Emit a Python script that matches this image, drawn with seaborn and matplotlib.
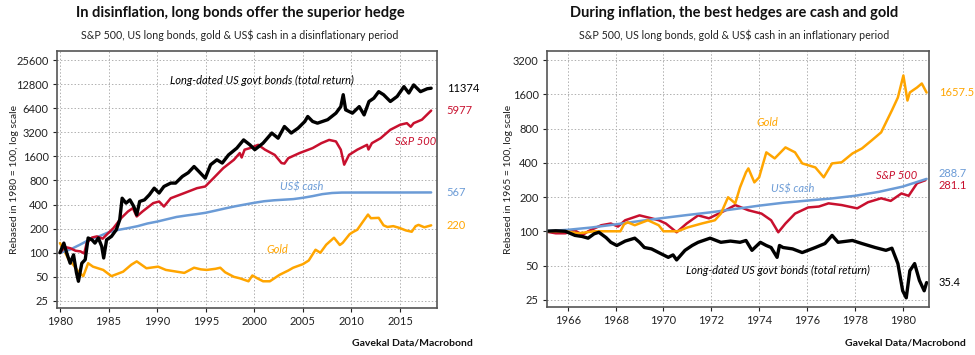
import matplotlib
matplotlib.use("Agg")
import matplotlib.pyplot as plt
import seaborn as sns

# ---------------- left panel: disinflation 1980-2018 ----------------
bond_yrs_l = [1980.0, 1980.4, 1980.7, 1981.05, 1981.4, 1981.7, 1981.9, 1982.25, 1982.6, 1982.9,
              1983.3, 1983.6, 1983.95, 1984.3, 1984.5, 1984.8, 1985.3, 1985.8, 1986.15, 1986.4,
              1986.8, 1987.2, 1987.6, 1987.9, 1988.2, 1988.7, 1989.2, 1989.7, 1990.2, 1990.7,
              1991.4, 1991.9, 1992.6, 1993.2, 1993.8, 1994.3, 1994.95, 1995.5, 1996.15, 1996.7,
              1997.35, 1998.2, 1998.9, 1999.55, 2000.05, 2000.9, 2001.8, 2002.45, 2003.1, 2003.8,
              2004.5, 2005.2, 2005.5, 2006.0, 2006.5, 2007.55, 2008.4, 2008.9, 2009.15, 2009.4,
              2010.1, 2010.8, 2011.3, 2011.8, 2012.3, 2012.8, 2013.3, 2014.0, 2014.7, 2015.4,
              2015.9, 2016.4, 2017.1, 2017.8, 2018.2]
bond_vals_l = [100, 132, 99, 74, 94, 56, 44, 74, 82, 153,
               145, 132, 153, 120, 86, 145, 160, 194, 258, 480,
               417, 458, 378, 298, 437, 458, 530, 641, 557, 673,
               742, 742, 899, 1000, 1195, 1036, 855, 1258, 1450, 1320,
               1670, 2030, 2570, 2230, 1940, 2340, 3130, 2700, 3780, 3130,
               3600, 4370, 5040, 4370, 4160, 4600, 5550, 6700, 9440, 6100,
               5550, 6700, 5280, 7760, 8530, 10300, 9440, 7760, 8980, 11900,
               9900, 12500, 10300, 11200, 11374]

sp_yrs_l = [1980.0, 1980.5, 1981.05, 1981.6, 1982.1, 1982.5, 1982.75, 1983.3, 1983.8, 1984.4,
            1984.8, 1985.5, 1986.3, 1987.0, 1987.5, 1987.9, 1988.5, 1989.6, 1990.2, 1990.7,
            1991.4, 1992.8, 1994.1, 1994.95, 1995.8, 1996.8, 1997.9, 1998.5, 1998.7, 1999.0,
            1999.55, 2000.4, 2001.1, 2002.1, 2002.8, 2003.1, 2003.5, 2004.65, 2006.0, 2006.9,
            2007.7, 2008.4, 2008.9, 2009.25, 2009.75, 2010.6, 2011.6, 2011.75, 2012.1, 2013.0,
            2014.0, 2015.0, 2015.7, 2016.1, 2016.4, 2017.25, 2018.2]
sp_vals_l = [100, 118, 114, 106, 104, 98, 132, 155, 160, 150,
             168, 203, 271, 328, 361, 284, 328, 417, 437, 378,
             480, 557, 641, 673, 855, 1140, 1450, 1760, 1550, 1940,
             2030, 2230, 1940, 1670, 1320, 1300, 1520, 1760, 2030, 2340,
             2570, 2460, 1940, 1260, 1670, 1940, 2230, 1950, 2340, 2700,
             3440, 3970, 4160, 3750, 4160, 4600, 5977]

cash_yrs_l = [1980.0, 1981.0, 1982.0, 1983.0, 1984.0, 1985.0, 1986.0, 1987.0, 1988.0, 1989.0,
              1990.0, 1991.0, 1992.0, 1993.0, 1994.0, 1995.0, 1996.0, 1997.0, 1998.0, 1999.0,
              2000.0, 2001.0, 2002.0, 2003.0, 2004.0, 2005.0, 2006.0, 2007.0, 2008.0, 2009.0,
              2012.0, 2015.0, 2018.2]
cash_vals_l = [100, 109, 125, 145, 160, 180, 193, 203, 215, 232,
               245, 262, 280, 292, 303, 316, 336, 358, 380, 400,
               421, 440, 452, 460, 468, 486, 510, 540, 558, 565,
               566, 566, 567]

gold_yrs_l = [1980.0, 1980.4, 1980.9, 1981.4, 1981.9, 1982.4, 1982.9, 1983.4, 1984.45, 1985.3,
              1986.5, 1987.35, 1987.9, 1988.9, 1990.1, 1990.9, 1992.8, 1993.8, 1994.5, 1995.1,
              1996.0, 1996.5, 1997.0, 1997.9, 1998.5, 1999.4, 1999.8, 2000.3, 2000.9, 2001.6,
              2002.6, 2003.5, 2004.0, 2005.0, 2005.6, 2006.3, 2006.8, 2007.4, 2008.2, 2008.8,
              2009.1, 2009.8, 2010.1, 2010.6, 2011.1, 2011.7, 2012.0, 2012.8, 2013.3, 2013.7,
              2014.3, 2014.9, 2015.6, 2016.2, 2016.6, 2016.9, 2017.5, 2018.2]
gold_vals_l = [132, 109, 82, 70, 58, 51, 74, 67, 61, 51,
               58, 71, 78, 64, 67, 61, 56, 65, 62, 61,
               63, 65, 57, 50, 48, 44, 52, 48, 44, 44,
               53, 60, 65, 72, 80, 109, 100, 126, 154, 125,
               133, 170, 180, 194, 237, 300, 270, 273, 220, 210,
               215, 205, 190, 183, 215, 223, 208, 220]

# ---------------- right panel: inflation 1965-1981 ----------------
bond_yrs_r = [1965.0, 1965.5, 1965.9, 1966.3, 1966.6, 1966.85, 1967.1, 1967.3, 1967.6, 1967.8,
              1968.05, 1968.4, 1968.8, 1969.0, 1969.2, 1969.5, 1969.8, 1970.2, 1970.4, 1970.55,
              1970.9, 1971.2, 1971.45, 1971.95, 1972.4, 1972.8, 1973.2, 1973.45, 1973.7, 1974.05,
              1974.3, 1974.5, 1974.75, 1974.85, 1975.0, 1975.4, 1975.8, 1976.35, 1976.75, 1977.05,
              1977.3, 1977.9, 1978.3, 1978.85, 1979.3, 1979.55, 1979.8, 1980.0, 1980.15, 1980.3,
              1980.5, 1980.7, 1980.9, 1981.0]
bond_vals_r = [100, 101, 100, 92, 90, 87, 95, 98, 88, 80,
               75, 82, 87, 80, 72, 70, 65, 59, 62, 56,
               68, 75, 80, 87, 80, 82, 80, 83, 68, 80,
               75, 72, 59, 75, 72, 70, 65, 72, 78, 92,
               80, 83, 78, 72, 68, 71, 52, 30, 26, 45,
               52, 37, 30, 35.4]

sp_yrs_r = [1965.0, 1965.5, 1965.9, 1966.3, 1966.6, 1966.85, 1967.4, 1967.8, 1968.1, 1968.4,
            1969.0, 1969.5, 1969.8, 1970.1, 1970.55, 1970.97, 1971.45, 1971.9, 1972.0, 1972.6,
            1973.0, 1973.55, 1974.1, 1974.5, 1974.8, 1975.1, 1975.5, 1976.05, 1976.5, 1976.9,
            1977.45, 1978.1, 1978.55, 1979.1, 1979.5, 1979.95, 1980.25, 1980.6, 1980.95]
sp_vals_r = [100, 96, 96, 102, 92, 100, 113, 117, 110, 125,
             138, 130, 125, 117, 98, 117, 138, 130, 133, 153,
             170, 153, 143, 125, 98, 117, 143, 162, 165, 176,
             170, 159, 180, 195, 185, 215, 205, 264, 281.1]

cash_yrs_r = [1965.0, 1966.0, 1967.0, 1968.0, 1969.0, 1970.0, 1971.0, 1972.0, 1973.0, 1974.0,
              1975.0, 1976.0, 1977.0, 1978.0, 1979.0, 1980.0, 1981.0]
cash_vals_r = [100, 103, 108, 115, 123, 131, 139, 147, 157, 168,
               178, 186, 194, 205, 222, 247, 288.7]

gold_yrs_r = [1965.0, 1965.9, 1966.45, 1967.1, 1968.2, 1968.35, 1968.5, 1968.8, 1969.35, 1969.8,
              1970.0, 1970.6, 1971.0, 1971.6, 1972.15, 1972.4, 1972.7, 1973.0, 1973.2, 1973.45,
              1973.55, 1973.8, 1974.0, 1974.3, 1974.65, 1975.1, 1975.5, 1975.8, 1976.35, 1976.7,
              1977.05, 1977.45, 1977.9, 1978.3, 1978.7, 1979.1, 1979.55, 1979.8, 1980.03, 1980.2,
              1980.3, 1980.6, 1980.8, 1981.0]
gold_vals_r = [100, 100, 96, 100, 100, 115, 120, 113, 125, 113,
               100, 100, 108, 117, 125, 143, 199, 176, 243, 330,
               357, 269, 298, 494, 437, 546, 494, 395, 364, 298,
               395, 404, 483, 535, 628, 740, 1155, 1500, 2340, 1410,
               1660, 1835, 1990, 1657.5]

end_labels_l = ["11374", "5977", "567", "220"]
end_labels_r = ["1657.5", "288.7", "281.1", "35.4"]

yticks_l = [25, 50, 100, 200, 400, 800, 1600, 3200, 6400, 12800, 25600]
yticks_r = [25, 50, 100, 200, 400, 800, 1600, 3200]
xticks_l = [1980, 1985, 1990, 1995, 2000, 2005, 2010, 2015]
xticks_r = [1966, 1968, 1970, 1972, 1974, 1976, 1978, 1980]

BLACK = "#000000"
RED = "#C8102E"
BLUE = "#6B9BD6"
GOLD = "#FFA500"

sns.set_theme(style="white")
plt.rcParams['font.family'] = ['Lato', 'DejaVu Sans']

fig = plt.figure(figsize=(9.75, 3.55), dpi=100)
ax1 = fig.add_axes([0.0585, 0.1324, 0.3897, 0.724])
ax2 = fig.add_axes([0.561, 0.1352, 0.3918, 0.7211])


def style_axis(ax, yticks, xticks, ylim, xlim, ylabel, label_x):
    ax.set_yscale('log', base=2)
    ax.set_ylim(*ylim)
    ax.set_xlim(*xlim)
    ax.set_yticks(yticks)
    ax.set_yticklabels([str(t) for t in yticks])
    ax.minorticks_off()
    ax.set_xticks(xticks)
    ax.set_xticklabels([str(t) for t in xticks])
    ax.grid(True, linestyle=(0, (1.5, 2)), color='#B0B0B0', lw=0.7)
    ax.tick_params(axis='both', labelsize=8, colors='#222222', length=3, width=0.8,
                   direction='out', bottom=True, left=True, pad=3)
    for sp in ax.spines.values():
        sp.set_color('#555555')
        sp.set_linewidth(1.2)
    ax.set_ylabel(ylabel, fontsize=7.5, color='#222222')
    ax.yaxis.set_label_coords(label_x, 0.5)
    ax.set_xlabel('')


# left panel
sns.lineplot(x=gold_yrs_l, y=gold_vals_l, ax=ax1, color=GOLD, lw=1.8, estimator=None)
sns.lineplot(x=cash_yrs_l, y=cash_vals_l, ax=ax1, color=BLUE, lw=1.8, estimator=None)
sns.lineplot(x=sp_yrs_l, y=sp_vals_l, ax=ax1, color=RED, lw=1.8, estimator=None)
sns.lineplot(x=bond_yrs_l, y=bond_vals_l, ax=ax1, color=BLACK, lw=2.4, estimator=None)
style_axis(ax1, yticks_l, xticks_l, (20.4, 33200), (1979.7, 2018.8),
           "Rebased in 1980 = 100, log scale", -0.099)

# right panel
sns.lineplot(x=sp_yrs_r, y=sp_vals_r, ax=ax2, color=RED, lw=1.8, estimator=None)
sns.lineplot(x=cash_yrs_r, y=cash_vals_r, ax=ax2, color=BLUE, lw=1.8, estimator=None)
sns.lineplot(x=gold_yrs_r, y=gold_vals_r, ax=ax2, color=GOLD, lw=1.8, estimator=None)
sns.lineplot(x=bond_yrs_r, y=bond_vals_r, ax=ax2, color=BLACK, lw=2.4, estimator=None)
style_axis(ax2, yticks_r, xticks_r, (21.6, 3840), (1965.13, 1981.1),
           "Rebased in 1965 = 100, log scale", -0.088)

# end-of-line value labels
cols = [BLACK, RED, BLUE, GOLD]
ends_l = [bond_vals_l[-1], sp_vals_l[-1], cash_vals_l[-1], gold_vals_l[-1]]
for txt, v, c in zip(end_labels_l, ends_l, cols):
    ax1.annotate(txt, xy=(1, v), xycoords=('axes fraction', 'data'), xytext=(7, 0),
                 textcoords='offset points', va='center', ha='left', fontsize=8, color=c)

cols_r = [GOLD, BLUE, RED, BLACK]
ends_r = [gold_vals_r[-1], cash_vals_r[-1], sp_vals_r[-1], bond_vals_r[-1]]
nudge_r = [0, 4, -4, 0]
for txt, v, c, dy in zip(end_labels_r, ends_r, cols_r, nudge_r):
    ax2.annotate(txt, xy=(1, v), xycoords=('axes fraction', 'data'), xytext=(7, dy),
                 textcoords='offset points', va='center', ha='left', fontsize=8, color=c)

# series names inside the plots
lab = dict(fontsize=8, style='italic', ha='center', va='center')
ax1.text(0.539, 0.887, "Long-dated US govt bonds (total return)", transform=ax1.transAxes, color=BLACK, **lab)
ax1.text(0.945, 0.646, "S&P 500", transform=ax1.transAxes, color=RED, **lab)
ax1.text(0.645, 0.471, "US$ cash", transform=ax1.transAxes, color=BLUE, **lab)
ax1.text(0.579, 0.226, "Gold", transform=ax1.transAxes, color=GOLD, **lab)

ax2.text(0.576, 0.719, "Gold", transform=ax2.transAxes, color=GOLD, **lab)
ax2.text(0.914, 0.512, "S&P 500", transform=ax2.transAxes, color=RED, **lab)
ax2.text(0.644, 0.461, "US$ cash", transform=ax2.transAxes, color=BLUE, **lab)
ax2.text(0.605, 0.141, "Long-dated US govt bonds (total return)", transform=ax2.transAxes, color=BLACK, **lab)

# titles, subtitles, source
fig.text(240 / 975, 1 - 13 / 355, "In disinflation, long bonds offer the superior hedge",
         ha='center', va='center', fontsize=10.5, fontweight='bold', color='#111111')
fig.text(240 / 975, 1 - 35 / 355, "S&P 500, US long bonds, gold & US$ cash in a disinflationary period",
         ha='center', va='center', fontsize=7.7, color='#222222')
fig.text(734 / 975, 1 - 13 / 355, "During inflation, the best hedges are cash and gold",
         ha='center', va='center', fontsize=10.5, fontweight='bold', color='#111111')
fig.text(734 / 975, 1 - 35 / 355, "S&P 500, US long bonds, gold & US$ cash in an inflationary period",
         ha='center', va='center', fontsize=7.7, color='#222222')
fig.text(473 / 975, 1 - 343 / 355, "Gavekal Data/Macrobond", ha='right', va='center',
         fontsize=7.5, fontweight='bold', color='#111111')
fig.text(966 / 975, 1 - 343 / 355, "Gavekal Data/Macrobond", ha='right', va='center',
         fontsize=7.5, fontweight='bold', color='#111111')

fig.savefig("out.png", dpi=100, facecolor='white')
